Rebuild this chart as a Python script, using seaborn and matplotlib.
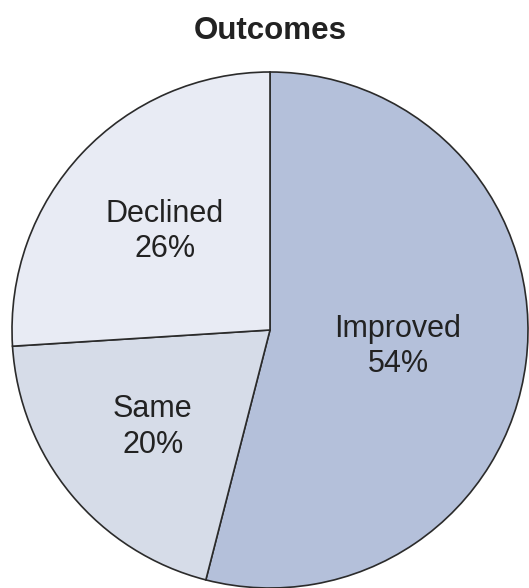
import numpy as np
import matplotlib
matplotlib.use("Agg")
import matplotlib.pyplot as plt
import seaborn as sns

categories = ["Improved", "Same", "Declined"]
shares = [54, 20, 26]
colors = ["#b4c0da", "#d6dce8", "#e8ebf4"]
label_radius = [0.50, 0.59, 0.56]

sns.set_theme(style="white")
plt.rcParams["font.family"] = ["Liberation Sans", "DejaVu Sans"]

fig = plt.figure(figsize=(5.29, 5.88), dpi=100)
ax = fig.add_axes([12 / 529, 0.0, 516 / 529, 516 / 588])

wedges, _ = ax.pie(
    shares,
    colors=colors,
    startangle=90,
    counterclock=False,
    radius=1.0,
    wedgeprops=dict(edgecolor="#2b2b2b", linewidth=1.2),
)
ax.set_xlim(-1.0, 1.0)
ax.set_ylim(-1.0, 1.0)
ax.set_aspect("equal")

for w, name, val, r in zip(wedges, categories, shares, label_radius):
    mid = np.deg2rad((w.theta1 + w.theta2) / 2)
    ax.text(r * np.cos(mid), r * np.sin(mid), f"{name}\n{val}%",
            ha="center", va="center", fontsize=22, color="#222222",
            linespacing=1.22)

fig.text(270 / 529, 1 - 31 / 588, "Outcomes", ha="center", va="center",
         fontsize=22.5, fontweight="bold", color="#222222")

fig.savefig("out.png", dpi=100)
